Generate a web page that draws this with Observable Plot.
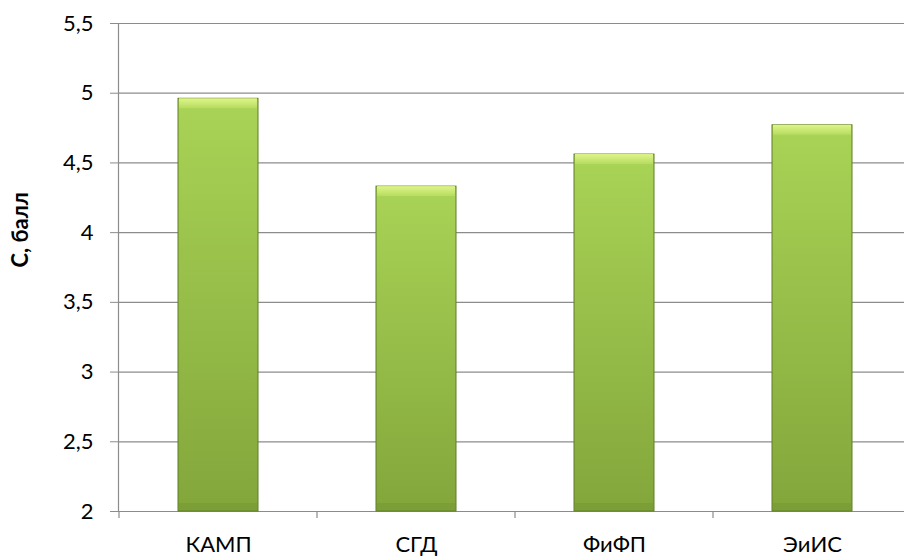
<!DOCTYPE html>
<html><head><meta charset="utf-8">
<script src="https://cdn.jsdelivr.net/npm/d3@7"></script>
<script src="https://cdn.jsdelivr.net/npm/@observablehq/plot@0.6"></script>
<style>body{margin:0;background:#fff}</style>
</head><body><div id="chart"></div>
<script>
const categories = ["КАМП", "СГД", "ФиФП", "ЭиИС"];
const values = [4.96, 4.33, 4.56, 4.77];
const yTicks = [2, 2.5, 3, 3.5, 4, 4.5, 5, 5.5];
const yLabel = "С, балл";

const data = categories.map((c, i) => ({category: c, value: values[i]}));
const fmt = d => String(d).replace(".", ",");
const FS = 22;

const chart = Plot.plot({
  width: 904, height: 556,
  marginLeft: 118, marginRight: 0, marginTop: 23, marginBottom: 45,
  style: {fontFamily: "Lato, 'Open Sans', sans-serif", fontSize: FS + "px", color: "#000", background: "#fff", overflow: "visible"},
  x: {domain: categories, range: [118.3, 912.7], paddingInner: 0.594, paddingOuter: 0.297, label: null},
  y: {domain: [2, 5.5], label: null},
  marks: [
    Plot.ruleY(yTicks, {stroke: "#8c8c8c", strokeWidth: 1.2}),
    Plot.frame({anchor: "left", stroke: "#8c8c8c", strokeWidth: 1.2}),
    Plot.axisY(yTicks, {tickSize: 8, tickPadding: 17, tickFormat: fmt, stroke: "#8c8c8c", fill: "#000", fontSize: FS, label: null}),
    Plot.axisX({tickSize: 0, tickPadding: 25, fill: "#000", fontSize: FS, label: null}),
    Plot.barY(data, {x: "category", y1: 2, y2: "value", fill: "url(#barBody)", stroke: "#5f7d26", strokeWidth: 1}),
    Plot.barY(data, {x: "category", y1: "value", y2: "value", insetBottom: -10, insetLeft: 1, insetRight: 1, fill: "url(#barTop)"}),
    Plot.barY(data, {x: "category", y1: 2, y2: 2, insetTop: -8, insetLeft: 1, insetRight: 1, fill: "#6f8f2e", fillOpacity: 0.35}),
    Plot.text([yLabel], {frameAnchor: "left", dx: -98, rotate: -90, fontWeight: "bold", fontSize: FS, fill: "#000"})
  ]
});

const svg = d3.select(chart);
const defs = svg.insert("defs", ":first-child");
const g1 = defs.append("linearGradient").attr("id", "barBody").attr("x1", 0).attr("y1", 0).attr("x2", 0).attr("y2", 1);
g1.append("stop").attr("offset", "0%").attr("stop-color", "#a9d456");
g1.append("stop").attr("offset", "100%").attr("stop-color", "#83a63b");
const g2 = defs.append("linearGradient").attr("id", "barTop").attr("x1", 0).attr("y1", 0).attr("x2", 0).attr("y2", 1);
g2.append("stop").attr("offset", "0%").attr("stop-color", "#dff58a");
g2.append("stop").attr("offset", "100%").attr("stop-color", "#b5dc5f");

// x-axis ticks at category band boundaries
const xs = chart.scale("x");
const ys = chart.scale("y");
const y0 = ys.apply(2);
categories.forEach(c => {
  const bx = xs.apply(c) - (xs.step - xs.bandwidth) / 2;
  svg.append("line").attr("x1", bx).attr("x2", bx).attr("y1", y0).attr("y2", y0 + 7)
    .attr("stroke", "#8c8c8c").attr("stroke-width", 1.2);
});

document.getElementById("chart").appendChild(chart);
</script>
</body></html>
